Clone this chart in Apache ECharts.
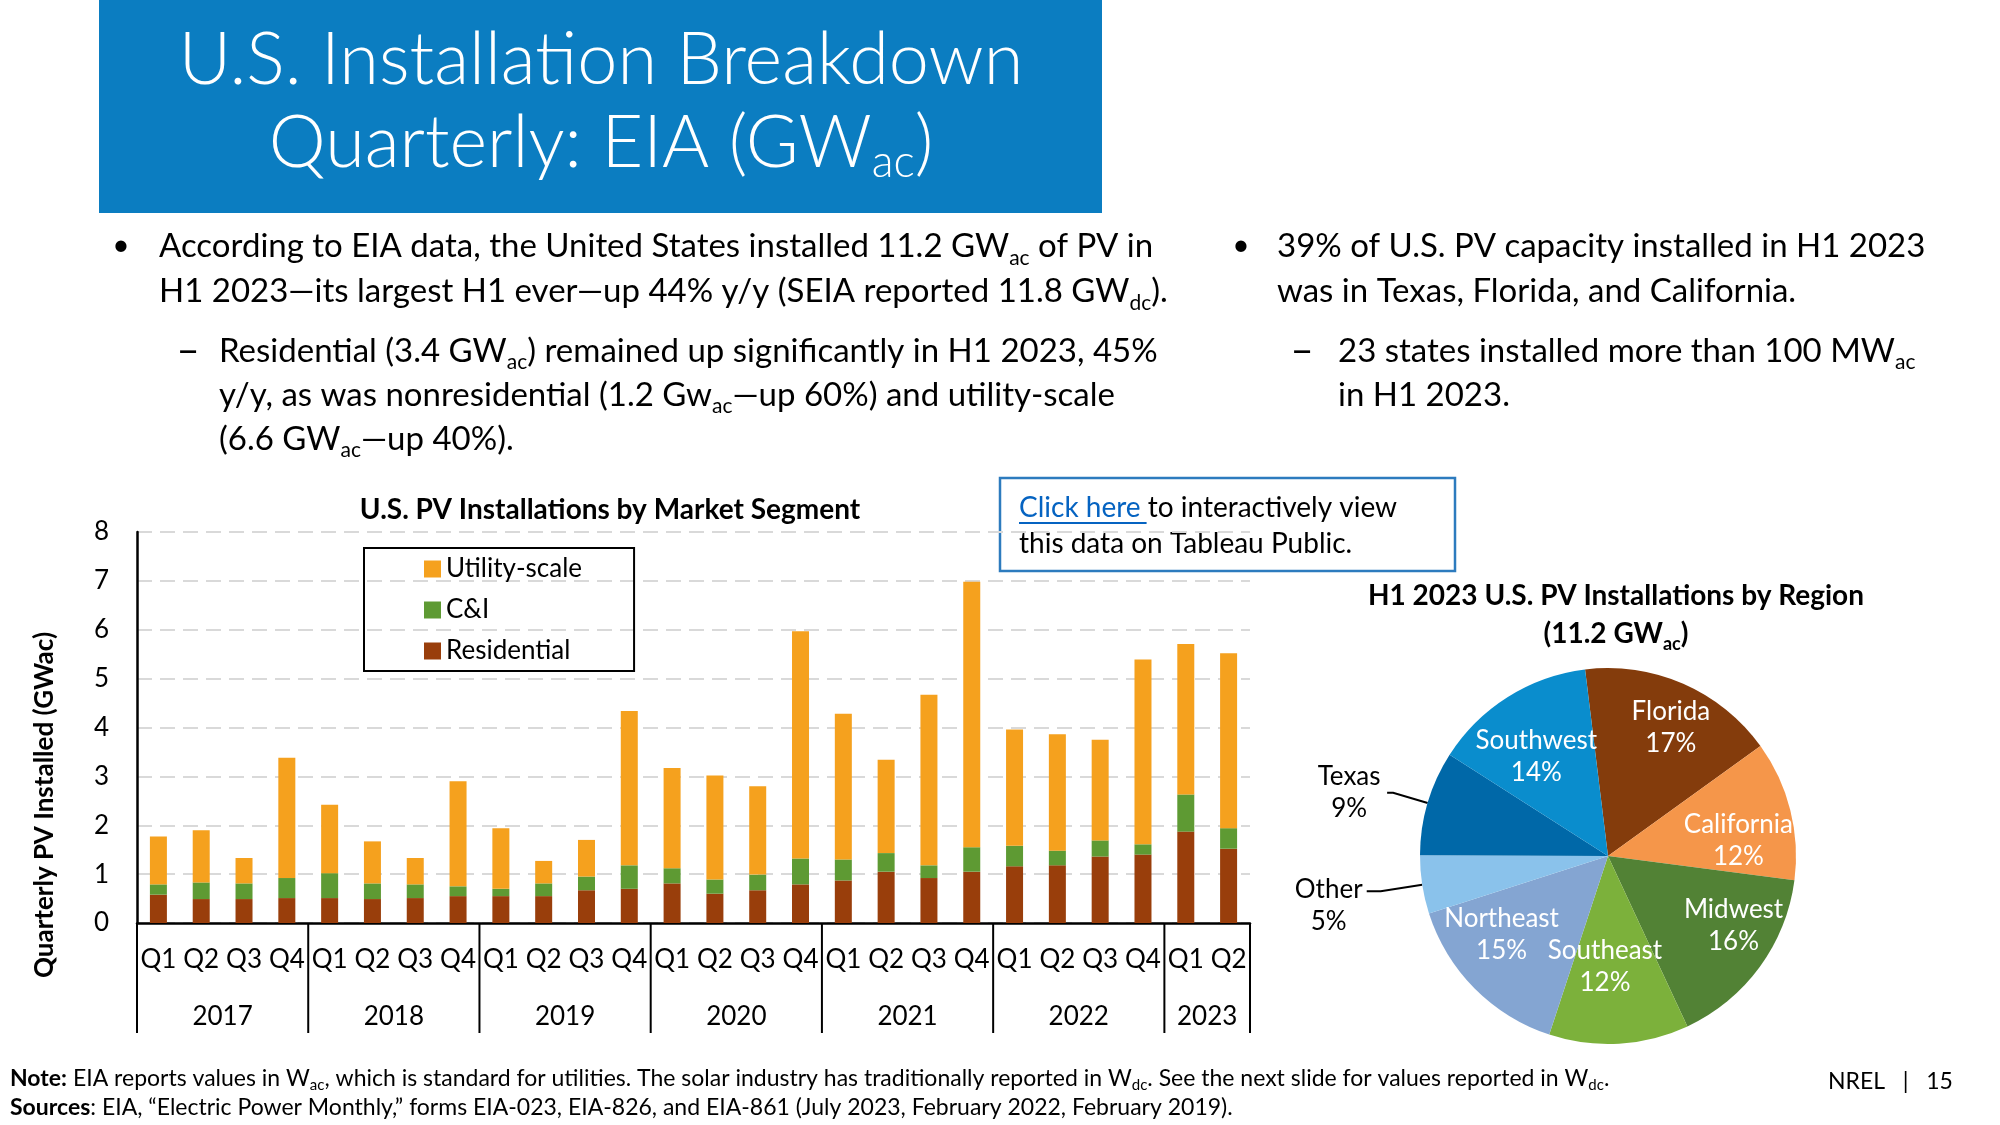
<!DOCTYPE html>
<html>
<head>
<meta charset="utf-8">
<script src="https://cdn.jsdelivr.net/npm/echarts@6/dist/echarts.min.js"></script>
<style>
html,body{margin:0;padding:0;background:#fff;}
#c{width:2000px;height:1125px;}
</style>
</head>
<body>
<div id="c"></div>
<script>
// ---------------- DATA ----------------
const years = ['2017', '2018', '2019', '2020', '2021', '2022', '2023'];
const quartersPerYear = [4, 4, 4, 4, 4, 4, 2];
const quarterNames = ['Q1', 'Q2', 'Q3', 'Q4'];
const seriesNames = ['Residential', 'C&I', 'Utility-scale'];
// GWac per quarter, 2017 Q1 .. 2023 Q2
const residential = [0.58, 0.49, 0.49, 0.51, 0.51, 0.49, 0.51, 0.55, 0.55, 0.55, 0.67, 0.70,
                     0.81, 0.60, 0.67, 0.79, 0.87, 1.05, 0.92, 1.05, 1.16, 1.18, 1.36, 1.40,
                     1.87, 1.52];
const commercialIndustrial = [0.21, 0.34, 0.32, 0.41, 0.51, 0.32, 0.28, 0.20, 0.15, 0.26, 0.28, 0.48,
                     0.31, 0.29, 0.32, 0.53, 0.43, 0.38, 0.26, 0.50, 0.42, 0.30, 0.33, 0.21,
                     0.76, 0.42];
const utilityScale = [0.98, 1.07, 0.52, 2.46, 1.40, 0.86, 0.54, 2.15, 1.24, 0.46, 0.75, 3.16,
                     2.05, 2.13, 1.81, 4.65, 2.98, 1.91, 3.49, 5.43, 2.38, 2.38, 2.06, 3.78,
                     3.08, 3.58];
const yTickMax = 8;
const yTickStep = 1;
// H1 2023 regional shares (%)
const regionNames = ['Florida', 'California', 'Midwest', 'Southeast', 'Northeast', 'Other', 'Texas', 'Southwest'];
const regionShares = [17, 12, 16, 12, 15, 5, 9, 14];
const outsideLabelRegions = ['Texas', 'Other'];

// ---------------- STYLE ----------------
const F = 'Lato, "Open Sans", "Liberation Sans", sans-serif';
const barColors = {'Residential': '#993E0B', 'C&I': '#5E9A33', 'Utility-scale': '#F5A11E'};
const pieColors = ['#843C0C', '#F5964A', '#528235', '#7CB13B', '#84A5D2', '#8AC2EB', '#0068A8', '#0A8DCD'];
// small label nudges (px) to mimic the original label placement
const pieLabelNudge = {
  Florida: [9, -5], California: [0, 18], Midwest: [17, -10], Southeast: [-11, -24],
  Northeast: [-11, -16], Southwest: [0, 14], Texas: [0, 0], Other: [0, 14]
};

// derived categories
const categories = [];
const yearGroups = [];
years.forEach((y, i) => {
  const start = categories.length;
  for (let q = 0; q < quartersPerYear[i]; q++) categories.push(y + ' ' + quarterNames[q]);
  yearGroups.push([start, categories.length - 1, 0]);
});

const chart = echarts.init(document.getElementById('c'), null, {renderer: 'canvas', width: 2000, height: 1125});

const BODY = 33;
const subBody = {fontSize: 21, lineHeight: 23, verticalAlign: 'bottom', fontFamily: F, fill: '#000'};

function bodyText(x, y, text, lh) {
  return {type: 'text', x: x, y: y, silent: true,
    style: {text: text, fontSize: BODY, fontFamily: F, fill: '#000', lineHeight: lh,
      align: 'left', verticalAlign: 'top', textAlign: 'left', textVerticalAlign: 'top',
      rich: {s: subBody}}};
}
function glyph(x, y, t, size) {
  return {type: 'text', x: x, y: y, silent: true,
    style: {text: t, fontSize: size, fontFamily: F, fill: '#000', align: 'center', verticalAlign: 'middle',
      textAlign: 'center', textVerticalAlign: 'middle'}};
}

const mctx = document.createElement('canvas').getContext('2d');
mctx.font = '28px ' + F;
const clickW = mctx.measureText('Click here').width;

const graphics = [
  {type: 'rect', shape: {x: 99, y: 0, width: 1003, height: 213}, style: {fill: '#0B7DC1'}, silent: true},
  {type: 'text', x: 601, y: 19, silent: true,
    style: {text: 'U.S. Installation Breakdown\nQuarterly: EIA (GW{s|ac})', fontSize: 72, fontWeight: 300,
      fontFamily: F, fill: '#fff', lineHeight: 83, align: 'center', verticalAlign: 'top',
      textAlign: 'center', textVerticalAlign: 'top',
      rich: {s: {fontSize: 45, lineHeight: 36, verticalAlign: 'bottom', fontWeight: 300, fontFamily: F, fill: '#fff'}}}},
  glyph(121, 245, '•', 30),
  bodyText(159, 224, 'According to EIA data, the United States installed 11.2 GW{s|ac} of PV in\nH1 2023\u2014its largest H1 ever\u2014up 44% y/y (SEIA reported 11.8 GW{s|dc}).', 45),
  glyph(188, 351, '\u2013', 40),
  bodyText(219, 329, 'Residential (3.4 GW{s|ac}) remained up significantly in H1 2023, 45%\ny/y, as was nonresidential (1.2 Gw{s|ac}\u2014up 60%) and utility-scale\n(6.6 GW{s|ac}\u2014up 40%).', 44),
  glyph(1241, 245, '•', 30),
  bodyText(1277, 224, '39% of U.S. PV capacity installed in H1 2023\nwas in Texas, Florida, and California.', 45),
  glyph(1302, 351, '\u2013', 40),
  bodyText(1338, 329, '23 states installed more than 100 MW{s|ac}\nin H1 2023.', 44),
  // Click here box
  {type: 'rect', shape: {x: 1000, y: 478, width: 455, height: 93}, style: {fill: 'none', stroke: '#2D7BBE', lineWidth: 2.5}, silent: true},
  {type: 'text', x: 1019, y: 490, silent: true,
    style: {text: '{l|Click here }to interactively view\nthis data on Tableau Public.', fontSize: 28, fontFamily: F, fill: '#000',
      lineHeight: 36, align: 'left', verticalAlign: 'top', textAlign: 'left', textVerticalAlign: 'top',
      rich: {l: {fill: '#0563C1', fontSize: 28, fontFamily: F}}}},
  {type: 'line', shape: {x1: 1019, y1: 523, x2: 1019 + clickW + 6, y2: 523}, style: {stroke: '#0563C1', lineWidth: 2}, silent: true},
  // chart titles
  {type: 'text', x: 610, y: 510, silent: true,
    style: {text: 'U.S. PV Installations by Market Segment', fontSize: 28, fontWeight: 'bold', fontFamily: F, fill: '#000',
      align: 'center', verticalAlign: 'middle', textAlign: 'center', textVerticalAlign: 'middle'}},
  {type: 'text', x: 1616, y: 577, silent: true,
    style: {text: 'H1 2023 U.S. PV Installations by Region\n(11.2 GW{s|ac})', fontSize: 28, fontWeight: 'bold', fontFamily: F, fill: '#000',
      lineHeight: 38, align: 'center', verticalAlign: 'top', textAlign: 'center', textVerticalAlign: 'top',
      rich: {s: {fontSize: 18, lineHeight: 22, verticalAlign: 'bottom', fontWeight: 'bold', fontFamily: F, fill: '#000'}}}},
  // y axis name
  {type: 'text', x: 45, y: 805, rotation: Math.PI / 2, silent: true,
    style: {text: 'Quarterly PV Installed (GWac)', fontSize: 26, fontWeight: 'bold', fontFamily: F, fill: '#000',
      align: 'center', verticalAlign: 'middle', textAlign: 'center', textVerticalAlign: 'middle'}},
  // footer
  {type: 'text', x: 10, y: 1064, silent: true,
    style: {text: '{b|Note:} EIA reports values in W{s|ac}, which is standard for utilities. The solar industry has traditionally reported in W{s|dc}. See the next slide for values reported in W{s|dc}.\n{b|Sources}: EIA, \u201cElectric Power Monthly,\u201d forms EIA-023, EIA-826, and EIA-861 (July 2023, February 2022, February 2019).',
      fontSize: 23, fontFamily: F, fill: '#000', lineHeight: 29, align: 'left', verticalAlign: 'top', textAlign: 'left', textVerticalAlign: 'top',
      rich: {b: {fontWeight: 'bold', fontSize: 23, fontFamily: F, fill: '#000'},
             s: {fontSize: 15, lineHeight: 17, verticalAlign: 'bottom', fontFamily: F, fill: '#000'}}}},
  {type: 'text', x: 1828, y: 1082, silent: true,
    style: {text: 'NREL   |   15', fontSize: 23, fontFamily: F, fill: '#000', align: 'left', verticalAlign: 'middle',
      textAlign: 'left', textVerticalAlign: 'middle'}}
];

function barSeries(name, values) {
  return {type: 'bar', name: name, stack: 'total', data: values, barWidth: 17,
    itemStyle: {color: barColors[name]}, silent: true};
}

const option = {
  animation: false,
  textStyle: {fontFamily: F},
  grid: {left: 137, right: 750, top: 532, bottom: 202, containLabel: false},
  legend: {
    data: ['Utility-scale', 'C&I', 'Residential'],
    orient: 'vertical', left: 364, top: 548,
    itemWidth: 17, itemHeight: 17, itemGap: 15, icon: 'rect',
    borderColor: '#000', borderWidth: 2, padding: [8, 52, 7, 60],
    selectedMode: false,
    textStyle: {fontSize: 26, color: '#000', fontFamily: F}
  },
  xAxis: {
    type: 'category', data: categories,
    axisLine: {show: true, lineStyle: {color: '#000', width: 2.5}},
    axisTick: {show: false},
    axisLabel: {interval: 0, margin: 24, fontSize: 26, color: '#000', fontFamily: F,
      formatter: v => v.split(' ')[1]},
    splitLine: {show: false}
  },
  yAxis: {
    type: 'value', min: 0, max: yTickMax, interval: yTickStep,
    axisLine: {show: true, lineStyle: {color: '#000', width: 2.5}},
    axisTick: {show: false},
    axisLabel: {margin: 28, fontSize: 26, color: '#000', fontFamily: F},
    splitLine: {show: true, lineStyle: {color: '#D9D9D9', width: 2, type: [15, 8]}}
  },
  graphic: graphics,
  series: [
    barSeries('Residential', residential),
    barSeries('C&I', commercialIndustrial),
    barSeries('Utility-scale', utilityScale),
    {
      type: 'custom', name: 'years', data: yearGroups, encode: {x: 0, y: 2}, silent: true, clip: false, z: 5,
      renderItem: function (params, api) {
        const s = api.value(0), e = api.value(1);
        const a = api.coord([s, 0]), b = api.coord([e, 0]);
        const bw = api.size([1, 0])[0];
        const xl = a[0] - bw / 2, xr = b[0] + bw / 2, y0 = a[1];
        const children = [
          {type: 'line', shape: {x1: xl, y1: y0, x2: xl, y2: y0 + 110}, style: {stroke: '#000', lineWidth: 2}},
          {type: 'text', style: {text: years[params.dataIndex], x: (xl + xr) / 2, y: y0 + 94, fontSize: 26,
            fontFamily: F, fill: '#000', align: 'center', verticalAlign: 'middle'}}
        ];
        if (params.dataIndex === years.length - 1) {
          children.push({type: 'line', shape: {x1: xr, y1: y0, x2: xr, y2: y0 + 110}, style: {stroke: '#000', lineWidth: 2}});
        }
        return {type: 'group', children: children};
      }
    },
    {
      type: 'pie', name: 'regionsFill', center: [1608, 856], radius: [0, 188], startAngle: 97, clockwise: true,
      silent: true, label: {show: false}, labelLine: {show: false},
      data: regionNames.map((n, i) => ({name: n, value: regionShares[i], itemStyle: {color: pieColors[i]}}))
    },
    {
      type: 'pie', name: 'regionsLabels', center: [1608, 856], radius: [75, 188], startAngle: 97, clockwise: true,
      silent: true, avoidLabelOverlap: false,
      itemStyle: {color: 'rgba(0,0,0,0)'},
      label: {show: true, position: 'inside', fontSize: 26, fontFamily: F, lineHeight: 32, color: '#fff',
        formatter: p => outsideLabelRegions.indexOf(p.name) >= 0
          ? '{o|' + p.name + '}\n{o|' + p.value + '%}'
          : '{i|' + p.name + '}\n{i|' + p.value + '%}',
        rich: {i: {color: '#fff', fontSize: 26, fontFamily: F, lineHeight: 32},
               o: {color: '#000', fontSize: 26, fontFamily: F, lineHeight: 32, width: 66, align: 'center'}}},
      labelLine: {show: false},
      labelLayout: function (params) {
        const nm = regionNames[params.dataIndex];
        const d = pieLabelNudge[nm] || [0, 0];
        return {dx: d[0], dy: d[1], hideOverlap: false};
      },
      data: regionNames.map((n, i) => {
        const d = {name: n, value: regionShares[i]};
        if (n === 'Texas') {
          d.label = {position: 'outside', color: '#000'};
          d.labelLine = {show: true, length: 36, length2: 6, smooth: false, lineStyle: {color: '#000', width: 2}};
        } else if (n === 'Other') {
          d.label = {position: 'outside', color: '#000'};
          d.labelLine = {show: true, length: 42, length2: 14, smooth: false, lineStyle: {color: '#000', width: 2}};
        }
        return d;
      })
    }
  ]
};
chart.setOption(option);
</script>
</body>
</html>
